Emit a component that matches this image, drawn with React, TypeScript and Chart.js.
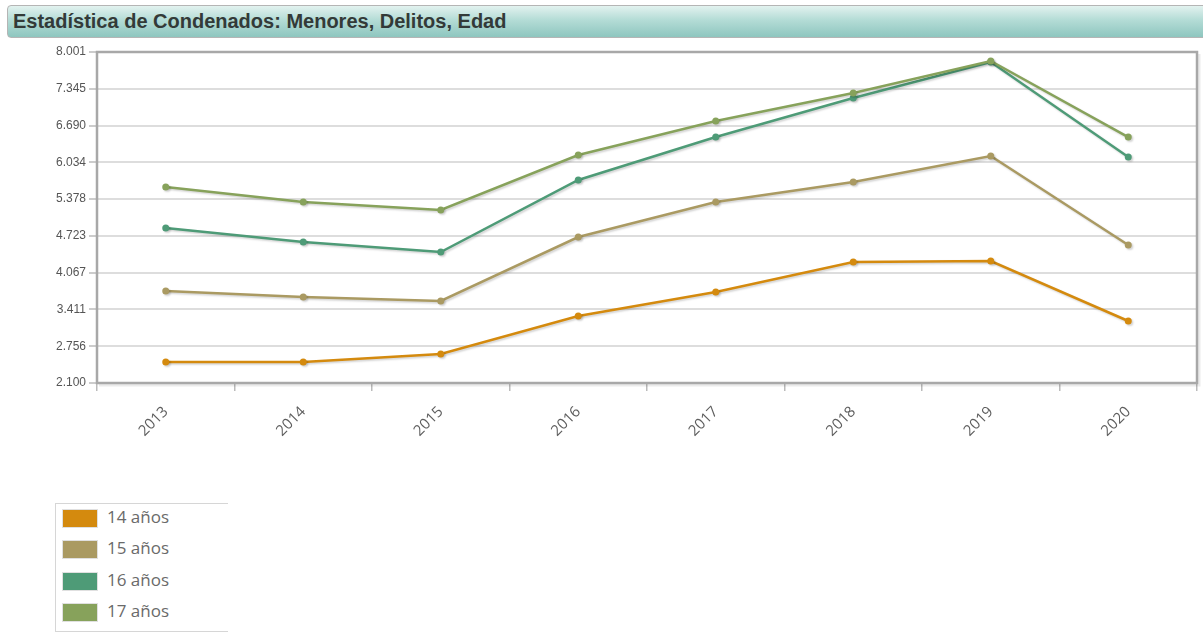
import React, { useEffect, useRef } from "react";
import { Chart, registerables } from "chart.js";

Chart.register(...registerables);

const TITLE = "Estadística de Condenados: Menores, Delitos, Edad";
const years = ["2013", "2014", "2015", "2016", "2017", "2018", "2019", "2020"];
const seriesNames = ["14 años", "15 años", "16 años", "17 años"];
const edad14 = [2474, 2474, 2617, 3294, 3722, 4257, 4275, 3205];
const edad15 = [3740, 3633, 3562, 4703, 5327, 5683, 6147, 4560];
const edad16 = [4863, 4613, 4435, 5719, 6485, 7181, 7823, 6129];
const edad17 = [5594, 5327, 5184, 6165, 6771, 7270, 7841, 6485];
const yTicks = [2100, 2756, 3411, 4067, 4723, 5378, 6034, 6690, 7345, 8001];
const seriesColors = ["#D48A0E", "#AA9A62", "#4E9B77", "#87A25B"];

const fmt = (v: number) => {
  const s = Math.round(v).toString();
  return s.replace(/\B(?=(\d{3})+(?!\d))/g, ".");
};

const shadowPlugin = {
  id: "lineShadow",
  beforeDatasetDraw(chart: any) {
    const ctx = chart.ctx;
    ctx.save();
    ctx.shadowColor = "rgba(0,0,0,0.18)";
    ctx.shadowOffsetX = 1.5;
    ctx.shadowOffsetY = 1.5;
    ctx.shadowBlur = 2;
  },
  afterDatasetDraw(chart: any) {
    chart.ctx.restore();
  },
};

const framePlugin = {
  id: "frame",
  beforeDatasetsDraw(chart: any) {
    const { ctx, chartArea } = chart;
    const { left, top, right, bottom } = chartArea;
    ctx.save();
    ctx.strokeStyle = "rgba(0,0,0,0.08)";
    ctx.lineWidth = 3;
    ctx.beginPath();
    ctx.moveTo(right + 2, top + 2);
    ctx.lineTo(right + 2, bottom + 2);
    ctx.lineTo(left + 2, bottom + 2);
    ctx.stroke();
    ctx.strokeStyle = "#A8A8A8";
    ctx.lineWidth = 2.5;
    ctx.strokeRect(left, top, right - left, bottom - top);
    ctx.restore();
  },
};

export default function App() {
  const canvasRef = useRef<HTMLCanvasElement | null>(null);

  useEffect(() => {
    if (!canvasRef.current) return;
    const data = [edad14, edad15, edad16, edad17];
    const chart = new Chart(canvasRef.current, {
      type: "line",
      data: {
        labels: years,
        datasets: seriesNames.map((name, i) => ({
          label: name,
          data: data[i],
          borderColor: seriesColors[i],
          backgroundColor: seriesColors[i],
          borderWidth: 2.5,
          pointRadius: 3.5,
          pointBorderWidth: 0,
          pointBackgroundColor: seriesColors[i],
          tension: 0,
          order: 3 - i,
        })),
      },
      options: {
        responsive: false,
        animation: false,
        maintainAspectRatio: false,
        layout: { padding: { left: 0, right: 6, top: 12, bottom: 0 } },
        plugins: {
          legend: { display: false },
          tooltip: { enabled: false },
          title: { display: false },
        },
        scales: {
          x: {
            offset: true,
            grid: {
              offset: true,
              drawOnChartArea: false,
              drawTicks: true,
              tickLength: 8,
              color: "#BBBBBB",
              lineWidth: 1.5,
            },
            border: { display: false },
            ticks: {
              maxRotation: 45,
              minRotation: 45,
              color: "#5E5E5E",
              padding: 12,
              font: { family: "'Open Sans', 'Liberation Sans', sans-serif", size: 15 },
            },
            afterFit(scale: any) {
              scale.height = 87;
            },
          },
          y: {
            min: 2100,
            max: 8001,
            afterBuildTicks(axis: any) {
              axis.ticks = yTicks.map((v) => ({ value: v }));
            },
            grid: {
              color: "#DDDDDD",
              lineWidth: 2,
              tickLength: 8,
              tickColor: "#999999",
              tickWidth: 1,
            },
            border: { display: false },
            ticks: {
              color: "#555555",
              padding: 3,
              font: { family: "'Liberation Sans', Arial, sans-serif", size: 12 },
              callback: (v: any) => fmt(Number(v)),
            },
            afterFit(scale: any) {
              scale.width = 97;
            },
          },
        },
      },
      plugins: [framePlugin, shadowPlugin],
    });
    return () => chart.destroy();
  }, []);

  return (
    <div
      style={{
        position: "fixed",
        left: 0,
        top: 0,
        width: 1203,
        height: 634,
        background: "#ffffff",
        overflow: "hidden",
        fontFamily: "'Liberation Sans', Arial, sans-serif",
      }}
    >
      <div
        style={{
          position: "absolute",
          left: 7,
          top: 5,
          width: 1210,
          height: 33,
          border: "1px solid #B5B5B5",
          borderRadius: 4,
          background: "linear-gradient(to bottom, #E2F2EF 0%, #B4DCD6 45%, #8EC6BF 100%)",
          boxSizing: "border-box",
        }}
      >
        <div
          style={{
            position: "absolute",
            left: 5,
            top: 4,
            fontSize: 20,
            fontWeight: "bold",
            color: "#333A38",
            whiteSpace: "nowrap",
          }}
        >
          {TITLE}
        </div>
      </div>
      <canvas
        ref={canvasRef}
        width={1203}
        height={430}
        style={{ position: "absolute", left: 0, top: 40, width: 1203, height: 430 }}
      />
      <div
        style={{
          position: "absolute",
          left: 55,
          top: 503,
          width: 173,
          height: 129,
          borderTop: "1px solid #D6D6D6",
          borderLeft: "1px solid #D6D6D6",
          borderBottom: "1px solid #D6D6D6",
          boxSizing: "border-box",
        }}
      >
        {seriesNames.map((name, i) => (
          <div
            key={name}
            style={{ position: "absolute", left: 6, top: 2 + i * 31.5, height: 24, display: "flex", alignItems: "center" }}
          >
            <div
              style={{
                width: 34,
                height: 17,
                background: seriesColors[i],
                border: "1px solid #E0E0E0",
                boxSizing: "content-box",
              }}
            />
            <span
              style={{
                marginLeft: 9,
                fontFamily: "'Open Sans', 'Liberation Sans', sans-serif",
                fontSize: 17,
                color: "#6A6A6A",
                lineHeight: "24px",
                marginTop: -3,
              }}
            >
              {name}
            </span>
          </div>
        ))}
      </div>
    </div>
  );
}
